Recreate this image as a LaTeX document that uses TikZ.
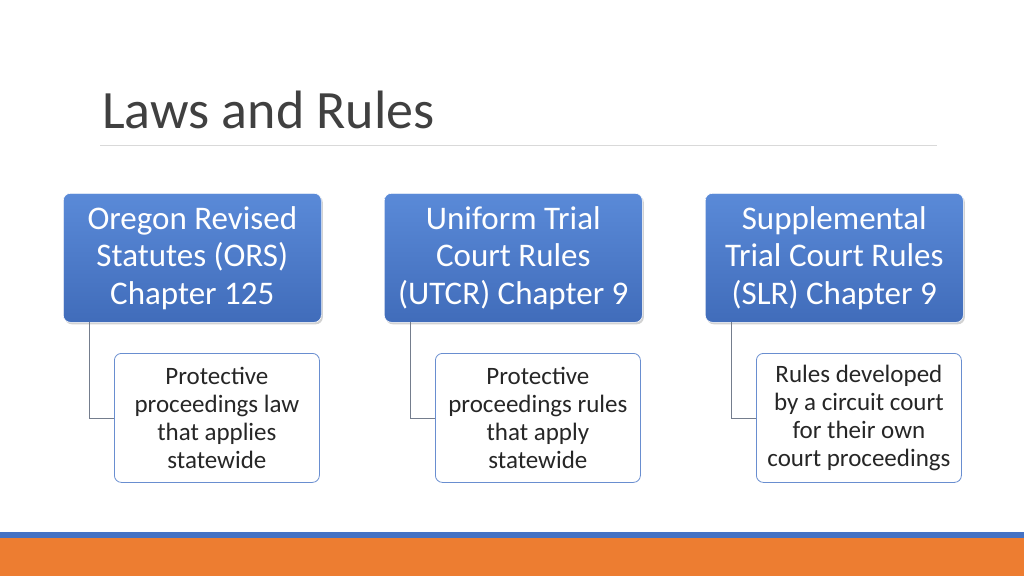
\documentclass[tikz,border=0pt]{standalone}
\usepackage{fontspec}
\setmainfont{Carlito}
\usetikzlibrary{shadows}
\definecolor{tblue}{HTML}{4472C4}
\definecolor{tblueL}{HTML}{5A8AD8}
\definecolor{torange}{HTML}{ED7D31}
\begin{document}
\begin{tikzpicture}[x=1pt,y=-1pt,
 topbox/.style={rounded corners=7pt, top color=tblueL, bottom color=tblue!95!black, draw=white, line width=0.6pt, drop shadow={shadow xshift=1.5pt,shadow yshift=-2pt,opacity=0.35}, text=white, font=\fontsize{33}{37.5}\selectfont, align=center, minimum width=258pt, minimum height=129pt, inner sep=0pt},
 subbox/.style={rounded corners=7pt, fill=white, draw=tblue!80, line width=0.8pt, text=black!85, font=\fontsize{25}{28}\selectfont, align=center, minimum width=205pt, minimum height=129pt, inner sep=0pt},
 conn/.style={draw=gray!80!tblue, line width=0.8pt}]
\useasboundingbox (0,0) rectangle (1024,576);
\fill[white] (0,0) rectangle (1024,576);
\node[anchor=base west, text=black!75, font=\fontsize{54}{58}\selectfont, inner sep=0pt] (title) at (102,128) {Laws and Rules};
\draw[black!15, line width=0.8pt] (100,145) -- (937,145);
\fill[tblue] (0,532) rectangle (1024,538);
\fill[torange] (0,538) rectangle (1024,576);
\foreach \i/\x/\t/\s in {a/63/{Oregon Revised\\Statutes (ORS)\\Chapter 125}/{Protective\\proceedings law\\that applies\\statewide},
 b/384/{Uniform Trial\\Court Rules\\(UTCR) Chapter 9}/{Protective\\proceedings rules\\that apply\\statewide},
 c/705/{Supplemental\\Trial Court Rules\\(SLR) Chapter 9}/{Rules developed\\by a circuit court\\for their own\\court proceedings}}{
 \node[subbox, anchor=north west] (s\i) at (\x+51,353) {\s};
 \node[topbox, anchor=north west] (t\i) at (\x,193) {\t};
 \coordinate (c\i) at (\x+26,322);
 \draw[conn] (c\i) |- (s\i.west);
}
\end{tikzpicture}
\end{document}
